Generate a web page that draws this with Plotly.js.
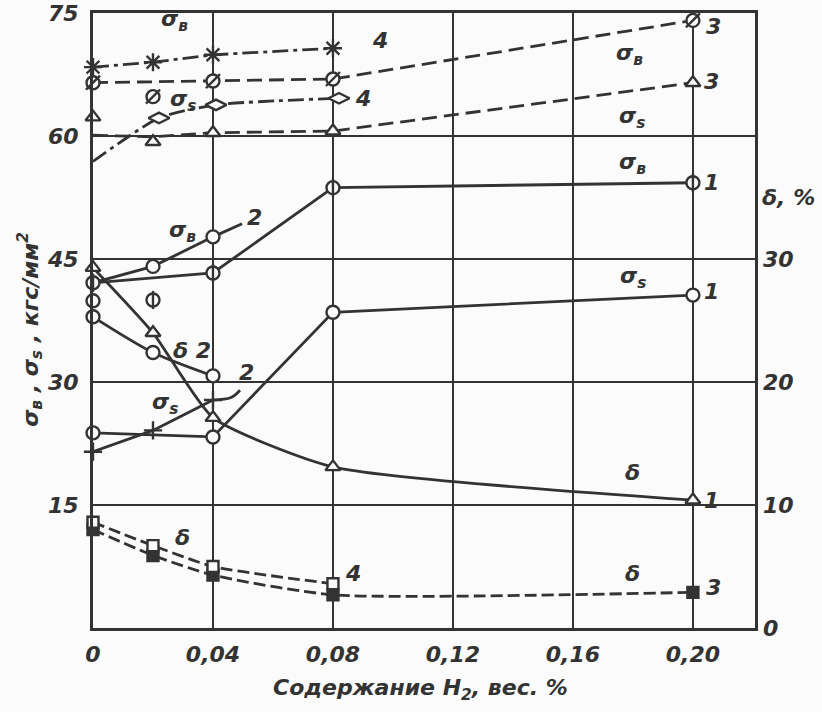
<!DOCTYPE html>
<html><head><meta charset="utf-8">
<script src="https://cdn.plot.ly/plotly-3.0.1.min.js"></script>
<style>html,body{margin:0;padding:0;background:#fbfbfb}</style>
</head><body>
<div id="chart" style="width:822px;height:712px"></div>
<script>
// ---- data (x = H2 content, wt.%) ----
// curve 4, sigma_B (asterisks, dash-dot)
const sB4_x = [0, 0.02, 0.04, 0.08];
const sB4_y = [68.4, 69.0, 69.9, 70.7];
// curve 3, sigma_B (slashed circles, dashed)
const sB3_x = [0, 0.04, 0.08, 0.20];
const sB3_y = [66.5, 66.7, 66.95, 74.1];
const sB3_extraX = [0.02];
const sB3_extraY = [64.8];
// curve 4, sigma_s (diamonds, dash-dot)
const sS4_lineX = [0, 0.022, 0.041, 0.082];
const sS4_lineY = [56.9, 62.2, 63.8, 64.6];
const sS4_markX = [0.022, 0.041, 0.082];
const sS4_markY = [62.2, 63.8, 64.6];
// curve 3, sigma_s (triangles, dashed)
const sS3_lineX = [0, 0.02, 0.04, 0.08, 0.20];
const sS3_lineY = [60.1, 59.9, 60.4, 60.6, 66.5];
const sS3_markX = [0, 0.02, 0.04, 0.08, 0.20];
const sS3_markY = [62.3, 59.3, 60.4, 60.6, 66.5];
// curve 1, sigma_B (circles with bar)
const sB1_x = [0, 0.04, 0.08, 0.20];
const sB1_y = [42.1, 43.3, 53.7, 54.3];
const sB1_extraX = [0.02];
const sB1_extraY = [40.0];
// curve 2, sigma_B (circles)
const sB2_x = [0, 0.02, 0.04];
const sB2_y = [42.1, 44.1, 47.7];
const sB2_leadX = [0.04, 0.0497];
const sB2_leadY = [47.7, 49.3];
const loneCircleX = [0];
const loneCircleY = [39.9];
// curve 1, sigma_s (circles)
const sS1_x = [0, 0.04, 0.08, 0.20];
const sS1_y = [23.8, 23.3, 38.5, 40.6];
// curve 2, sigma_s (crosses)
const sS2_x = [0, 0.02, 0.04];
const sS2_y = [21.5, 24.1, 27.8];
const sS2_leadX = [0.04, 0.046, 0.049];
const sS2_leadY = [27.8, 28.1, 29.0];
// elongation delta, % (right axis)
const d1_x = [0, 0.02, 0.04, 0.08, 0.20];
const d1_y = [29.3, 24.0, 17.1, 13.1, 10.4];
const d2_x = [0, 0.02, 0.04];
const d2_y = [25.3, 22.4, 20.5];
const d3_x = [0, 0.02, 0.04, 0.08, 0.20];
const d3_y = [8.0, 5.9, 4.3, 2.7, 2.9];
const d4_x = [0, 0.02, 0.04, 0.08];
const d4_y = [8.6, 6.7, 5.0, 3.6];
// axis ticks
const xTickVals = [0, 0.04, 0.08, 0.12, 0.16, 0.20];
const xTickText = ['0', '0,04', '0,08', '0,12', '0,16', '0,20'];
const yTickVals = [15, 30, 45, 60, 75];
const y2TickVals = [0, 10, 20, 30];
// curve labels: [x, y(left units), text]
const labels = [
  [0.0273, 74.1, 'σ<sub>в</sub>'], [0.0957, 71.7, '4'], [0.2067, 73.3, '3'],
  [0.179, 69.9, 'σ<sub>в</sub>'], [0.2063, 66.6, '3'], [0.1797, 62.3, 'σ<sub>s</sub>'],
  [0.090, 64.6, '4'], [0.030, 64.3, 'σ<sub>s</sub>'], [0.1797, 56.7, 'σ<sub>в</sub>'],
  [0.2063, 54.3, '1'], [0.030, 48.3, 'σ<sub>в</sub>'], [0.054, 50.1, '2'],
  [0.180, 42.7, 'σ<sub>s</sub>'], [0.2063, 41.0, '1'], [0.033, 33.9, 'δ 2'],
  [0.0513, 31.2, '2'], [0.024, 27.4, 'σ<sub>s</sub>'], [0.180, 19.0, 'δ'],
  [0.2063, 15.6, '1'], [0.030, 11.0, 'δ'], [0.0867, 6.7, '4'],
  [0.180, 6.7, 'δ'], [0.2067, 4.9, '3']
];

const INK = '#333333', BG = '#fbfbfb';
const FONT = 'DejaVu Sans';
const LW = 2.8;
const dashDot = '16px,5px,4px,5px';
const dashLong = '15px,7px';
const dashShort = '12px,5px';

function line(x, y, dash, opts) {
  return Object.assign({x, y, mode: 'lines', type: 'scatter', hoverinfo: 'skip',
    line: {color: INK, width: LW, dash: dash || 'solid', shape: 'linear'}}, opts || {});
}
function marks(x, y, symbol, size, filled, opts) {
  const isOpen = /-open$/.test(symbol);
  return Object.assign({x, y, mode: 'markers', type: 'scatter', hoverinfo: 'skip', cliponaxis: false,
    marker: {symbol, size, color: (filled || isOpen) ? INK : BG, line: {color: INK, width: 2.4}}}, opts || {});
}
function spl(tr, s) { tr.line.shape = 'spline'; tr.line.smoothing = s; return tr; }

const traces = [
  line(sB4_x, sB4_y, dashDot),
  marks(sB4_x, sB4_y, 'asterisk-open', 15, false),
  line(sB3_x, sB3_y, dashLong),
  marks(sB3_x, sB3_y, 'circle', 13, false),
  marks(sB3_x, sB3_y, 'line-ne-open', 14, false),
  marks(sB3_extraX, sB3_extraY, 'circle', 13, false),
  marks(sB3_extraX, sB3_extraY, 'line-ne-open', 14, false),
  spl(line(sS4_lineX, sS4_lineY, dashDot), 0.6),
  marks(sS4_markX, sS4_markY, 'diamond-wide', 15, false),
  line(sS3_lineX, sS3_lineY, dashLong),
  marks(sS3_markX, sS3_markY, 'triangle-up', 13, false),
  line(sB1_x, sB1_y),
  line(sB2_x, sB2_y),
  line(sB2_leadX, sB2_leadY),
  line(sS1_x, sS1_y),
  line(sS2_x, sS2_y),
  spl(line(sS2_leadX, sS2_leadY), 1),
  marks(sS2_x, sS2_y, 'cross-thin-open', 13, false),
  spl(line(d1_x, d1_y, 'solid', {yaxis: 'y2'}), 0.55),
  spl(line(d2_x, d2_y, 'solid', {yaxis: 'y2'}), 0.8),
  spl(line(d3_x, d3_y, dashShort, {yaxis: 'y2'}), 0.6),
  spl(line(d4_x, d4_y, dashShort, {yaxis: 'y2'}), 0.6),
  marks(d1_x, d1_y, 'triangle-up', 13, false, {yaxis: 'y2'}),
  marks(d2_x, d2_y, 'circle', 13, false, {yaxis: 'y2'}),
  marks(d3_x, d3_y, 'square', 11, true, {yaxis: 'y2'}),
  marks(d4_x, d4_y, 'square', 11, false, {yaxis: 'y2'}),
  marks(sB1_x, sB1_y, 'circle', 13, false),
  marks(sB1_x, sB1_y, 'line-ns-open', 13, false),
  marks(sB1_extraX, sB1_extraY, 'circle', 13, false),
  marks(sB1_extraX, sB1_extraY, 'line-ns-open', 13, false),
  marks(sB2_x.slice(1), sB2_y.slice(1), 'circle', 13, false),
  marks(loneCircleX, loneCircleY, 'circle', 13, false),
  marks(sS1_x, sS1_y, 'circle', 13, false)
];

const lblFont = {family: FONT, size: 22, color: INK, style: 'italic', weight: 'bold'};
const titleFont = {family: FONT, size: 22, color: INK, style: 'italic', weight: 'bold'};
const annotations = labels.map(([x, y, t]) => ({x, y, xref: 'x', yref: 'y', text: t,
  showarrow: false, font: lblFont}));
annotations.push({xref: 'paper', yref: 'paper', x: -0.095, y: 0.485, xanchor: 'center', yanchor: 'middle',
  textangle: -90, text: 'σ<sub>в</sub> , σ<sub>s</sub> , кгс/мм<sup>2</sup>', showarrow: false,
  font: titleFont});
annotations.push({xref: 'paper', yref: 'paper', x: 1.05, y: 0.70, xanchor: 'center', yanchor: 'middle',
  text: 'δ, %', showarrow: false, font: titleFont});
annotations.push({xref: 'paper', yref: 'paper', x: 0.494, y: -0.10, xanchor: 'center', yanchor: 'middle',
  text: 'Содержание H<sub>2</sub>, вес. %', showarrow: false, font: titleFont});

const tickFont = {family: FONT, size: 22, color: INK, style: 'italic', weight: 'bold'};
const layout = {
  width: 822, height: 712,
  margin: {l: 93, r: 67, t: 13, b: 84},
  paper_bgcolor: BG, plot_bgcolor: BG,
  showlegend: false,
  xaxis: {range: [0, 0.2207], tickvals: xTickVals, ticktext: xTickText, ticks: '',
    showgrid: true, gridcolor: INK, gridwidth: 1.8, zeroline: false,
    showline: true, linecolor: INK, linewidth: 3, mirror: true,
    tickfont: tickFont, ticklabelstandoff: 5},
  yaxis: {range: [0, 75], tickvals: yTickVals, ticks: '',
    showgrid: true, gridcolor: INK, gridwidth: 1.8, zeroline: false,
    showline: true, linecolor: INK, linewidth: 3, mirror: true,
    tickfont: tickFont, ticklabelstandoff: 7},
  yaxis2: {range: [0, 50], overlaying: 'y', side: 'right', tickvals: y2TickVals,
    ticks: '', showgrid: false, zeroline: false, showline: false,
    tickfont: tickFont, ticklabelstandoff: 7},
  annotations
};
Plotly.newPlot('chart', traces, layout, {staticPlot: true});
</script>
</body></html>
